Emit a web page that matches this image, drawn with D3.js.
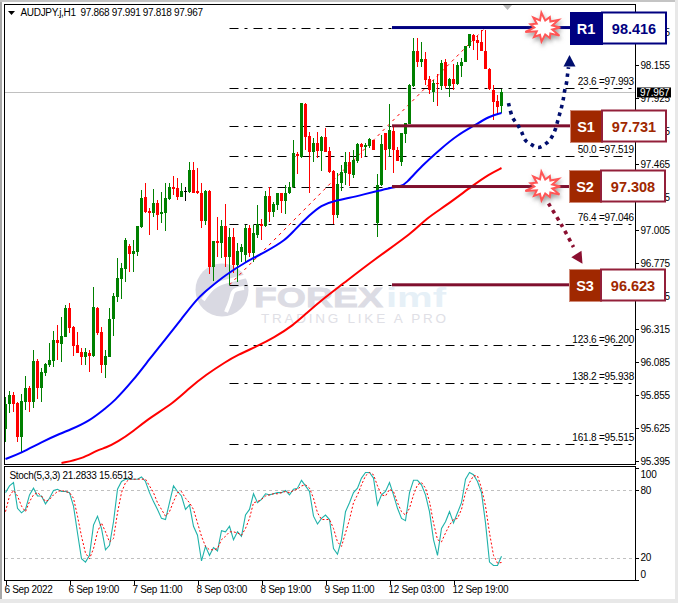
<!DOCTYPE html>
<html><head><meta charset="utf-8">
<script src="https://cdnjs.cloudflare.com/ajax/libs/d3/7.8.5/d3.min.js"></script>
<style>
html,body{margin:0;padding:0;background:#fff}
svg{display:block}
text{font-family:"Liberation Sans",Arial,sans-serif}
.mt{font-size:10px;letter-spacing:-.2px;fill:#000}
.tight{letter-spacing:-.32px}
.axis path,.axis line{stroke:#000;shape-rendering:crispEdges}
.axis text{font-family:"Liberation Sans",Arial,sans-serif;font-size:10px;letter-spacing:-.2px;fill:#000}
.axis.time text{letter-spacing:-.32px}
</style></head><body><svg id="c" width="678" height="603"></svg>
<script>
const title="AUDJPY.j,H1  97.868 97.991 97.818 97.967";
const stochTitle="Stoch(5,3,3) 21.2833 15.6513";
const priceTicks=[98.385,98.155,97.925,97.695,97.465,97.235,97.005,96.775,96.545,96.315,96.085,95.855,95.625,95.395];
const timeTickBars=[0,16,32,48,64,80,96,112];
const timeLabels=["6 Sep 2022","6 Sep 19:00","7 Sep 11:00","8 Sep 03:00","8 Sep 19:00","9 Sep 11:00","12 Sep 03:00","12 Sep 19:00"];
const stochTicks=[100,80,20,0];
const stochLevels=[80,20];
const lastClose=97.967;
// open, high, low, close
const ohlc=[
[95.618,95.841,95.527,95.792],[95.792,95.883,95.729,95.855],[95.855,95.876,95.736,95.792],[95.799,95.806,95.527,95.562],[95.562,95.862,95.458,95.813],
[95.806,95.987,95.750,95.904],[95.904,95.918,95.736,95.806],[95.806,96.169,95.764,96.092],[96.092,96.106,95.827,95.904],[95.904,96.043,95.806,96.015],
[96.008,96.078,95.987,96.071],[96.064,96.217,96.050,96.099],[96.092,96.301,96.050,96.238],[96.238,96.343,96.099,96.217],[96.210,96.399,96.085,96.266],
[96.259,96.482,96.259,96.461],[96.461,96.496,96.287,96.322],[96.329,96.336,96.127,96.196],[96.203,96.294,96.148,96.148],[96.155,96.183,96.064,96.120],
[96.120,96.183,96.064,96.155],[96.148,96.169,96.015,96.127],[96.127,96.608,96.120,96.468],[96.461,96.468,96.273,96.287],[96.294,96.329,96.008,96.064],
[96.064,96.169,95.973,96.127],[96.120,96.461,96.120,96.385],[96.385,96.566,96.266,96.545],[96.538,96.810,96.503,96.670],[96.663,96.775,96.524,96.740],
[96.733,96.949,96.642,96.935],[96.894,96.908,96.712,96.838],[96.838,96.935,96.712,96.859],[96.852,97.033,96.824,97.033],[97.026,97.284,97.019,97.228],
[97.235,97.332,97.123,97.130],[97.137,97.158,96.970,97.123],[97.123,97.291,97.095,97.193],[97.193,97.214,97.005,97.109],[97.116,97.270,97.053,97.130],
[97.123,97.332,96.998,97.228],[97.221,97.332,97.214,97.304],[97.304,97.381,97.249,97.290],[97.297,97.367,97.214,97.235],[97.235,97.332,97.235,97.277],
[97.277,97.304,97.207,97.277],[97.270,97.479,97.263,97.423],[97.423,97.479,97.263,97.263],[97.277,97.437,97.256,97.263],[97.263,97.332,97.019,97.068],
[97.068,97.284,97.040,97.277],[97.277,97.284,96.698,96.747],[96.747,96.928,96.649,96.928],[96.928,97.095,96.817,96.914],[96.914,97.075,96.810,97.033],
[97.033,97.186,96.747,96.817],[96.817,97.019,96.622,96.956],[96.956,97.019,96.705,96.761],[96.761,96.914,96.642,96.859],[96.852,96.908,96.782,96.887],
[96.831,97.040,96.782,97.019],[97.019,97.040,96.817,96.845],[96.845,97.040,96.782,96.984],[96.970,97.179,96.949,97.047],[97.047,97.082,96.935,97.033],
[97.033,97.277,97.026,97.242],[97.242,97.304,97.061,97.130],[97.130,97.200,97.095,97.186],[97.179,97.263,97.144,97.263],[97.263,97.263,97.123,97.207],
[97.207,97.318,97.116,97.263],[97.263,97.339,97.256,97.304],[97.304,97.632,97.297,97.542],[97.535,97.549,97.395,97.521],[97.514,97.890,97.507,97.890],
[97.883,97.890,97.563,97.653],[97.660,97.688,97.263,97.549],[97.549,97.646,97.479,97.611],[97.611,97.688,97.507,97.556],[97.556,97.660,97.416,97.653],
[97.653,97.716,97.549,97.549],[97.556,97.583,97.402,97.409],[97.416,97.423,97.047,97.109],[97.109,97.402,97.088,97.325],[97.332,97.458,97.277,97.409],
[97.402,97.549,97.318,97.479],[97.479,97.549,97.311,97.395],[97.388,97.563,97.367,97.493],[97.486,97.611,97.472,97.604],[97.604,97.611,97.507,97.583],
[97.583,97.611,97.521,97.597],[97.590,97.646,97.576,97.639],[97.632,97.632,97.563,97.563],[97.054,97.395,96.956,97.319],[97.319,97.667,97.312,97.604],
[97.681,97.681,97.423,97.563],[97.569,97.883,97.514,97.702],[97.695,97.723,97.402,97.563],[97.563,97.584,97.486,97.486],[97.479,97.681,97.451,97.681],
[97.674,97.751,97.611,97.751],[97.744,98.022,97.744,98.016],[98.009,98.343,98.002,98.253],[98.253,98.343,98.141,98.176],[98.176,98.315,98.141,98.197],
[98.197,98.246,98.016,98.050],[98.057,98.078,97.953,97.981],[97.967,98.050,97.897,98.029],[98.029,98.092,97.869,98.022],[98.008,98.190,97.981,98.169],
[98.176,98.197,97.995,98.008],[98.008,98.064,97.932,98.057],[98.057,98.162,97.981,98.022],[98.022,98.176,98.016,98.155],[98.148,98.204,98.071,98.176],
[98.176,98.287,98.176,98.287],[98.287,98.371,98.273,98.371],[98.364,98.371,98.260,98.322],[98.329,98.357,98.190,98.308],[98.315,98.399,98.253,98.253],
[98.253,98.399,98.127,98.127],[98.127,98.134,97.981,97.988],[97.981,98.015,97.772,97.897],[97.904,97.946,97.806,97.862],[97.868,97.991,97.818,97.967]];
// moving averages: bar number, price
const maFast=[[0,95.409],[4,95.451],[9,95.527],[14,95.590],[16,95.611],[21,95.674],[25,95.764],[27,95.806],[32,95.959],[36,96.106],[40,96.245],[44,96.385],[48,96.531],[51,96.601],[55,96.691],[60,96.782],[65,96.852],[70,96.935],[72,96.998],[76,97.109],[79,97.179],[82,97.207],[86,97.228],[90,97.256],[93,97.277],[96,97.298],[99,97.311],[100,97.325],[104,97.451],[109,97.576],[113,97.667],[117,97.729],[121,97.799],[124,97.820]];
const maSlow=[[14,95.381],[19,95.409],[23,95.472],[25,95.486],[28,95.527],[32,95.604],[36,95.695],[42,95.799],[46,95.904],[50,95.994],[55,96.085],[58,96.134],[63,96.196],[67,96.252],[72,96.343],[75,96.419],[80,96.538],[84,96.622],[92,96.796],[102,96.991],[105,97.082],[110,97.172],[117,97.319],[121,97.395],[124,97.437]];
const stochMain=[78,84,87,64,60,63,76,82,75,75,68,73,80,81,79,79,78,66,42,19,16,22,49,57,46,27,31,52,81,88,90,90,90,90,92,88,78,70,63,55,54,69,84,79,75,63,67,48,40,17,30,22,29,26,44,43,48,36,43,39,58,63,77,69,72,77,76,77,78,78,80,76,81,82,89,84,79,57,50,55,58,54,28,23,36,61,69,78,82,91,96,96,91,67,76,79,87,76,64,55,53,78,89,89,85,76,61,36,22,46,52,61,51,60,69,90,96,94,88,78,51,16,13,13,21.28];
const stochSignal=[61,75,80,75,66,61,70,76,78,75,70,72,76,79,80,79,78,73,57,39,24,19,28,43,51,43,34,37,60,78,87,90,90,90,90,90,84,78,69,63,57,61,70,78,79,73,69,63,51,39,30,27,27,28,36,39,43,43,42,40,46,55,69,70,72,75,76,77,77,78,79,78,80,81,84,85,82,73,60,54,54,54,46,34,30,42,54,69,76,85,93,96,94,84,76,75,81,79,69,61,58,64,76,85,87,82,70,51,36,34,42,49,54,55,63,78,87,93,93,82,66,42,22,15,15.65];
const fibLevels=[{r:"",p:98.416},{r:"23.6",p:97.993},{r:"",p:97.731},{r:"50.0",p:97.519},{r:"",p:97.308},{r:"76.4",p:97.046},{r:"",p:96.623},{r:"123.6",p:96.200},{r:"138.2",p:95.938},{r:"161.8",p:95.515}];
const fibTrend=[[56,96.623],[120,98.416]];
const levels=[{n:"R1",p:98.416,bar:"#000080",box:"#000080",val:"#000080",edge:"#000080"},
{n:"S1",p:97.731,bar:"#7f0f2e",box:"#a02800",val:"#a02800",edge:"#93203a"},
{n:"S2",p:97.308,bar:"#7f0f2e",box:"#a02800",val:"#a02800",edge:"#93203a"},
{n:"S3",p:96.623,bar:"#7f0f2e",box:"#a02800",val:"#a02800",edge:"#93203a"}];
const upPath=[[125.75,97.89],[126.75,97.79],[128,97.74],[129,97.69],[130,97.63],[131.5,97.60],[133.25,97.58],[135.25,97.61],[136.5,97.65],[137.5,97.71],[138,97.76],[138.5,97.81],[139,97.86],[139.5,97.925],[139.75,97.97],[140.25,98.03],[140.5,98.085],[140.75,98.14]];
const downPath=[[135.75,97.19],[139,97.04],[142,96.886]];
const burstRadii=[15,8,17,9,13,8,16,9,14,8,18,9,13,8,15,9,17,8,13,9,16,8];

const W=678,H=603;
const L=5,R=635,T=5,B=464,PT=467,PB=580;
const x=d3.scaleLinear().domain([0,157.5]).range([L+.5,R+.5]);
const y=d3.scaleLinear().domain([95.395,98.155]).range([461,65]);
const ys=d3.scaleLinear().domain([0,100]).range([580,468]);
const svg=d3.select("#c");
const defs=svg.append("defs");
defs.append("clipPath").attr("id","mainClip").append("rect").attr("x",L).attr("y",T).attr("width",R-L).attr("height",B-T);
defs.append("clipPath").attr("id","subClip").append("rect").attr("x",L).attr("y",PT).attr("width",R-L).attr("height",PB-PT);
const f=defs.append("filter").attr("id","sh").attr("x","-30%").attr("y","-30%").attr("width","170%").attr("height","170%");
f.append("feDropShadow").attr("dx",1).attr("dy",3).attr("stdDeviation",2).attr("flood-color","#777").attr("flood-opacity",.7);

// window edges
svg.append("rect").attr("width",W).attr("height",H).attr("fill","#fff");
svg.append("rect").attr("x",0).attr("y",0).attr("width",2).attr("height",H).attr("fill","#a8a8a8");
svg.append("rect").attr("x",0).attr("y",0).attr("width",W).attr("height",2).attr("fill","#c4c4c4");
svg.append("rect").attr("x",675).attr("y",0).attr("width",3).attr("height",H).attr("fill","#e8e8e8");
svg.append("rect").attr("x",0).attr("y",599).attr("width",W).attr("height",4).attr("fill","#e8e8e8");

// watermark
const wm=svg.append("g").attr("pointer-events","none");
wm.append("circle").attr("cx",222).attr("cy",290).attr("r",26.5).attr("fill","#d9d9e2");
wm.append("path").attr("d",d3.line().curve(d3.curveBasis)([[203,300],[214,284],[233,280],[247,276]])).attr("fill","none").attr("stroke","#fff").attr("stroke-width",4);
wm.append("path").attr("d",d3.line().curve(d3.curveBasis)([[226,312],[232,298],[232,290],[244,288]])).attr("fill","none").attr("stroke","#fff").attr("stroke-width",4);
wm.append("text").attr("x",254).attr("y",307).attr("textLength",129).attr("lengthAdjust","spacingAndGlyphs").attr("font-size",28).attr("font-weight",700).attr("fill","#dcdce4").attr("stroke","#dcdce4").attr("stroke-width",.8).text("FOREX");
wm.append("text").attr("x",386).attr("y",307).attr("textLength",60).attr("lengthAdjust","spacingAndGlyphs").attr("font-size",28).attr("font-weight",700).attr("fill","#e6f0f7").text("imf");
wm.append("text").attr("x",261).attr("y",323).attr("textLength",185).attr("lengthAdjust","spacing").attr("font-size",13.5).attr("fill","#e0e0e6").text("TRADING LIKE A PRO");

// current price line
svg.append("line").attr("x1",L).attr("x2",R).attr("y1",Math.round(y(lastClose))+.5).attr("y2",Math.round(y(lastClose))+.5).attr("stroke","#c0c0c0");

const main=svg.append("g").attr("clip-path","url(#mainClip)");
// fibonacci
main.selectAll(".fib").data(fibLevels).join("line")
 .attr("x1",x(56)).attr("x2",634)
 .attr("y1",d=>Math.round(y(d.p))+.5).attr("y2",d=>Math.round(y(d.p))+.5)
 .attr("stroke","#000").attr("stroke-dasharray","9 6 3 6");
main.append("path").datum(fibTrend).attr("fill","none").attr("stroke","#ff0000").attr("stroke-dasharray","3 4")
 .attr("d",d3.line().x(d=>x(d[0])).y(d=>y(d[1])));

// candles
const cols=d=>d[3]>d[0]?"#008000":d[3]<d[0]?"#ff0000":"#000";
const cg=main.append("g").attr("shape-rendering","crispEdges");
cg.selectAll(".w").data(ohlc).join("line")
 .attr("x1",(d,i)=>x(i)).attr("x2",(d,i)=>x(i))
 .attr("y1",d=>Math.round(y(d[1]))).attr("y2",d=>Math.round(y(d[2])))
 .attr("stroke",cols);
cg.selectAll(".b").data(ohlc).join("rect")
 .attr("x",(d,i)=>x(i)-1.5).attr("width",3)
 .attr("y",d=>Math.round(y(Math.max(d[0],d[3]))))
 .attr("height",d=>Math.max(1,Math.round(y(Math.min(d[0],d[3])))-Math.round(y(Math.max(d[0],d[3])))))
 .attr("fill",cols);

// moving averages
const ml=d3.line().x(d=>x(d[0])).y(d=>y(d[1])).curve(d3.curveBasis);
main.append("path").attr("d",ml(maSlow)).attr("fill","none").attr("stroke","#ff0000").attr("stroke-width",2);
main.append("path").attr("d",ml(maFast)).attr("fill","none").attr("stroke","#0000ff").attr("stroke-width",2);

// fib labels
svg.selectAll(".fl").data(fibLevels.filter(d=>d.r)).join("text").attr("class","mt")
 .attr("x",634).attr("y",d=>y(d.p)-3).attr("text-anchor","end").text(d=>`${d.r} =${d.p.toFixed(3)}`);

// stochastic
const sub=svg.append("g").attr("clip-path","url(#subClip)");
sub.selectAll(".lv").data(stochLevels).join("line").attr("x1",L).attr("x2",R)
 .attr("y1",d=>Math.round(ys(d))+.5).attr("y2",d=>Math.round(ys(d))+.5)
 .attr("stroke","#c0c0c0").attr("stroke-dasharray","3 3");
const sl=d3.line().x((d,i)=>x(i)).y(d=>ys(d));
sub.append("path").attr("d",sl(stochMain)).attr("fill","none").attr("stroke","#20b2aa").attr("stroke-width",1.1);
sub.append("path").attr("d",sl(stochSignal)).attr("fill","none").attr("stroke","#ff0000").attr("stroke-dasharray","2 2");

// frames
const fr=svg.append("g").attr("fill","none").attr("stroke","#000").attr("shape-rendering","crispEdges");
fr.append("rect").attr("x",4.5).attr("y",4.5).attr("width",R-4).attr("height",B-4);
fr.append("rect").attr("x",4.5).attr("y",466.5).attr("width",R-4).attr("height",PB-466);

// axes
const ay=svg.append("g").attr("class","axis").attr("transform",`translate(${R+.5},0)`)
 .call(d3.axisRight(y).tickValues(priceTicks).tickFormat(d3.format(".3f")).tickSize(3).tickPadding(2));
ay.select(".domain").remove();
const as=svg.append("g").attr("class","axis").attr("transform",`translate(${R+.5},0)`)
 .call(d3.axisRight(ys).tickValues(stochTicks).tickSize(3).tickPadding(2));
as.select(".domain").remove();
as.selectAll(".tick text").attr("dy",d=>d==100?"9px":d==0?"-3px":".32em");
const ax=svg.append("g").attr("class","axis time").attr("transform",`translate(0,${PB+.5})`)
 .call(d3.axisBottom(x).tickValues(timeTickBars).tickFormat((d,i)=>timeLabels[i]).tickSize(4).tickPadding(1));
ax.select(".domain").remove();
ax.selectAll(".tick text").attr("text-anchor","start").attr("dx","-1.5px");

// last-price tag
svg.append("rect").attr("x",637).attr("y",y(lastClose)-4.5).attr("width",34).attr("height",10).attr("fill","#000");
svg.append("text").attr("class","mt").attr("x",640).attr("y",y(lastClose)+4).style("fill","#fff").text(lastClose.toFixed(3));

// titles
svg.append("path").attr("d",d3.line()([[8,11],[15,11],[11.5,15]])).attr("fill","#000");
svg.append("text").attr("class","mt tight").attr("x",20.5).attr("y",16).style("white-space","pre").text(title);
svg.append("text").attr("class","mt tight").attr("x",9.5).attr("y",479).text(stochTitle);
svg.append("path").attr("d",d3.line()([[503,5],[512,5],[507.5,10]])).attr("fill","#b8b8b8");

// S/R bars
svg.selectAll(".lvbar").data(levels).join("rect")
 .attr("x",392).attr("width",180).attr("y",d=>y(d.p)-1.5).attr("height",3).attr("fill",d=>d.bar);

// dotted arrows
const al=d3.line().x(d=>x(d[0])).y(d=>y(d[1])).curve(d3.curveCatmullRom);
svg.append("path").attr("d",al(upPath)).attr("fill","none").attr("stroke","#000e6e").attr("stroke-width",3.6).attr("stroke-dasharray","3.6 4.4");
svg.append("path").attr("d",al(downPath)).attr("fill","none").attr("stroke","#8b0f30").attr("stroke-width",3.6).attr("stroke-dasharray","3.6 4.4");
const tip=d3.line()([[0,0],[-6,11.5],[6,11.5]])+"Z";
svg.append("path").attr("d",tip).attr("fill","#000e6e").attr("transform",`translate(${x(141)},${y(98.225)}) rotate(0)`);
svg.append("path").attr("d",tip).attr("fill","#8b0f30").attr("transform",`translate(${x(144.25)},${y(96.77)}) rotate(148)`);

// bursts
const bl=d3.line().curve(d3.curveLinearClosed);
const angle=2*Math.PI/burstRadii.length;
const burstPts=burstRadii.map((r,i)=>[Math.cos(i*angle)*r*1.08,Math.sin(i*angle)*r*.88]);
[levels[0],levels[2]].forEach(d=>{
 svg.append("path").attr("d",bl(burstPts)).attr("transform",`translate(544,${y(d.p)})`)
  .attr("fill","#fff").attr("stroke","#ff5656").attr("stroke-width",2).attr("filter","url(#sh)");
});

// level panels
const panelTop={R1:12,S1:110,S2:170,S3:269};
const panelX={R1:570,S1:570,S2:569,S3:569};
const pg=svg.selectAll(".pnl").data(levels).join("g").attr("transform",d=>`translate(${panelX[d.n]},${panelTop[d.n]})`);
pg.append("rect").attr("width",32).attr("height",32).attr("fill",d=>d.box).attr("stroke",d=>d.n=="R1"?d.box:"#d08a78").attr("shape-rendering","crispEdges");
pg.append("rect").attr("x",32).attr("y",.5).attr("width",64).attr("height",31).attr("fill","#fff").attr("stroke",d=>d.edge).attr("stroke-width",2);
pg.append("text").attr("x",16).attr("y",21.5).attr("text-anchor","middle").attr("font-size",14.5).attr("font-weight",700).attr("fill","#fff").text(d=>d.n);
pg.append("text").attr("x",64).attr("y",21.5).attr("text-anchor","middle").attr("font-size",14.5).attr("font-weight",700).attr("fill",d=>d.val).text(d=>d.p.toFixed(3));
</script></body></html>
